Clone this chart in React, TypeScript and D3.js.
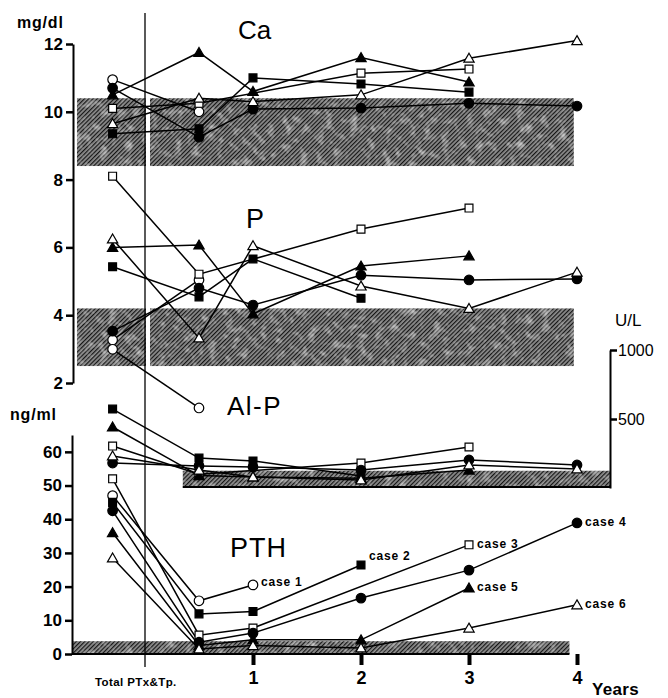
import React, { useEffect, useRef } from "react";
import * as d3 from "d3";

// time points (years after Total PTx & Tp.; pre-op drawn left of the line)
const times = [-0.3, 0.5, 1, 2, 3, 4];
const caseNames = ["case 1", "case 2", "case 3", "case 4", "case 5", "case 6"];
const caseSymbols = ["oc", "fs", "os", "fc", "ft", "ot"];

// serum Ca, mg/dl
const caValues = [
  [10.95, 10.0, null, null, null, null],
  [9.35, 9.5, 11.0, 10.82, 10.58, null],
  [10.1, 10.25, null, 11.14, 11.26, null],
  [10.7, 9.25, 10.08, 10.11, 10.25, 10.17],
  [10.5, 11.75, 10.6, 11.6, 10.88, null],
  [9.65, 10.4, 10.3, 10.5, 11.58, 12.1],
];
// serum P, mg/dl
const pValues = [
  [3.27, 5.04, null, null, null, null],
  [5.43, 4.54, 5.66, 4.5, null, null],
  [8.1, 5.21, null, 6.54, 7.16, null],
  [3.53, 4.8, 4.3, 5.18, 5.04, 5.07],
  [6.0, 6.07, 4.04, 5.45, 5.75, null],
  [6.25, 3.33, 6.05, 4.86, 4.2, 5.27],
];
// Al-P, U/L
const alpValues = [
  [1005, 580, null, null, null, null],
  [572, 217, 196, 87, null, null],
  [304, 100, null, 181, 297, null],
  [181, 160, 152, 130, 203, 167],
  [442, 90, 80, 70, 130, null],
  [232, 130, 80, 58, 167, 138],
];
// PTH, ng/ml
const pthValues = [
  [47, 15.8, 20.5, null, null, null],
  [45, 11.9, 12.6, 26.4, null, null],
  [52, 5.6, 7.7, null, 32.4, null],
  [42.5, 3.5, 6.2, 16.6, 24.9, 38.9],
  [36, 2.5, 4.2, 4.2, 19.6, null],
  [28.5, 1.5, 2.5, 1.8, 7.7, 14.6],
];

// normal ranges [lo, hi, from year, to year]
const caNormal = [8.4, 10.4, -0.63, 3.97];
const pNormal = [2.5, 4.2, -0.63, 3.97];
const alpNormal = [0, 125, 0.35, 4.31];
const pthNormal = [0, 3.8, -0.67, 3.93];

const mgTicks = [2, 4, 6, 8, 10, 12];
const ngTicks = [0, 10, 20, 30, 40, 50, 60];
const ulTicks = [500, 1000];
const yearTicks = [1, 2, 3, 4];

const App = () => {
  const svgRef = useRef(null);

  useEffect(() => {
    const svg = d3.select(svgRef.current);
    svg.selectAll("*").remove();

    const x = d3.scaleLinear().domain([0, 4]).range([145, 577]);
    const yMg = d3.scaleLinear().domain([2, 12]).range([383, 44]);
    const yAlp = d3.scaleLinear().domain([0, 1000]).range([488, 350]);
    const yPth = d3.scaleLinear().domain([0, 65]).range([654, 435]);

    const defs = svg.append("defs");
    const pat = defs
      .append("pattern")
      .attr("id", "hatch")
      .attr("width", 3)
      .attr("height", 3)
      .attr("patternUnits", "userSpaceOnUse")
      .attr("patternTransform", "rotate(45)");
    pat.append("rect").attr("width", 3).attr("height", 3).attr("fill", "#8e8e8e");
    pat
      .append("line")
      .attr("x1", 0.5)
      .attr("y1", 0)
      .attr("x2", 0.5)
      .attr("y2", 3)
      .attr("stroke", "#151515")
      .attr("stroke-width", 1.4);

    const noise = defs.append("filter").attr("id", "grain");
    noise
      .append("feTurbulence")
      .attr("type", "fractalNoise")
      .attr("baseFrequency", 0.12)
      .attr("numOctaves", 2)
      .attr("seed", 3);
    noise
      .append("feColorMatrix")
      .attr("values", "0 0 0 0 1  0 0 0 0 1  0 0 0 0 1  2.6 0 0 0 -1.3");
    noise.append("feComposite").attr("in2", "SourceGraphic").attr("operator", "in");

    const band = (scale, [lo, hi, t0, t1]) => {
      const g = svg.append("g");
      const attrs = (sel) =>
        sel
          .attr("x", x(t0))
          .attr("y", scale(hi))
          .attr("width", x(t1) - x(t0))
          .attr("height", scale(lo) - scale(hi));
      g.append("rect").call(attrs).attr("fill", "url(#hatch)");
      g.append("rect").call(attrs).attr("fill", "#fff").attr("filter", "url(#grain)").attr("opacity", 0.55);
    };
    band(yMg, caNormal);
    band(yMg, pNormal);
    band(yAlp, alpNormal);
    band(yPth, pthNormal);

    // gap next to the operation line
    svg
      .append("line")
      .attr("x1", x(0) + 3)
      .attr("x2", x(0) + 3)
      .attr("y1", yMg(10.5))
      .attr("y2", yMg(2.4))
      .attr("stroke", "#fff")
      .attr("stroke-width", 4);

    svg
      .append("line")
      .attr("x1", x(0))
      .attr("x2", x(0))
      .attr("y1", 13)
      .attr("y2", 667)
      .attr("stroke", "#000")
      .attr("stroke-width", 1.3);

    const symbolType = {
      oc: d3.symbolCircle,
      fc: d3.symbolCircle,
      os: d3.symbolSquare,
      fs: d3.symbolSquare,
      ot: d3.symbolTriangle,
      ft: d3.symbolTriangle,
    };
    const symbolSize = { oc: 72, fc: 72, os: 62, fs: 62, ot: 46, ft: 46 };

    const line = d3
      .line()
      .x((d) => x(d.t))
      .y((d) => d.y);

    const drawPanel = (values, scale) => {
      const g = svg.append("g");
      const series = values.map((vals, i) =>
        vals
          .map((v, j) => ({ t: times[j], v, s: caseSymbols[i] }))
          .filter((d) => d.v != null)
          .map((d) => ({ ...d, y: scale(d.v) })),
      );
      g.selectAll("path.ln")
        .data(series)
        .enter()
        .append("path")
        .attr("class", "ln")
        .attr("d", line)
        .attr("fill", "none")
        .attr("stroke", "#000")
        .attr("stroke-width", 1.5);
      series.forEach((pts) => {
        g.selectAll(null)
          .data(pts)
          .enter()
          .append("path")
          .attr("transform", (d) => `translate(${x(d.t)},${d.y + (d.s.endsWith("t") ? 1 : 0)})`)
          .attr("d", (d) => d3.symbol().type(symbolType[d.s]).size(symbolSize[d.s])())
          .attr("fill", (d) => (d.s.startsWith("f") ? "#000" : "#fff"))
          .attr("stroke", "#000")
          .attr("stroke-width", 1.2);
      });
      return series;
    };

    drawPanel(caValues, yMg);
    drawPanel(pValues, yMg);
    drawPanel(alpValues, yAlp);
    const pth = drawPanel(pthValues, yPth);

    // case labels at the last PTH value
    const lblShift = [-2, -8, 0, 0, 0, 0];
    svg
      .append("g")
      .selectAll("text")
      .data(pth)
      .enter()
      .append("text")
      .attr("x", (pts) => x(pts[pts.length - 1].t) + 8)
      .attr("y", (pts, i) => pts[pts.length - 1].y + lblShift[i])
      .attr("dominant-baseline", "middle")
      .attr("font-family", "Liberation Sans, Arial, sans-serif")
      .attr("font-weight", "bold")
      .attr("font-size", 12)
      .attr("letter-spacing", 0.8)
      .text((_, i) => caseNames[i]);

    const styleAxis = (g, size) =>
      g
        .call((s) => s.select(".domain").attr("stroke-width", 2))
        .call((s) => s.selectAll(".tick line").attr("stroke-width", 2.5))
        .call((s) =>
          s
            .selectAll("text")
            .attr("font-family", "Liberation Sans, Arial, sans-serif")
            .attr("font-weight", "bold")
            .attr("font-size", size)
            .attr("fill", "#000"),
        );

    svg
      .append("g")
      .attr("transform", "translate(73,0)")
      .call(d3.axisLeft(yMg).tickValues(mgTicks).tickSize(7).tickSizeOuter(0).tickPadding(3))
      .call((g) => styleAxis(g, 17));

    svg
      .append("g")
      .attr("transform", "translate(72,0)")
      .call(d3.axisLeft(yPth).tickValues(ngTicks).tickSize(7).tickSizeOuter(0).tickPadding(3))
      .call((g) => styleAxis(g, 17));

    svg
      .append("g")
      .attr("transform", "translate(610,0)")
      .call(
        d3
          .axisRight(yAlp)
          .tickValues(ulTicks)
          .tickSize(7)
          .tickSizeOuter(0)
          .tickPadding(1)
          .tickFormat(d3.format("d")),
      )
      .call((g) => styleAxis(g, 16))
      .call((g) => g.selectAll("text").attr("font-weight", "normal"));

    // Al-P box bottom
    svg
      .append("line")
      .attr("x1", x(alpNormal[2]))
      .attr("x2", x(alpNormal[3]))
      .attr("y1", yAlp(0) - 1)
      .attr("y2", yAlp(0) - 1)
      .attr("stroke", "#000")
      .attr("stroke-width", 2);

    // x axis
    svg
      .append("line")
      .attr("x1", 72)
      .attr("x2", x(3.93))
      .attr("y1", yPth(0))
      .attr("y2", yPth(0))
      .attr("stroke", "#000")
      .attr("stroke-width", 2);
    svg
      .append("g")
      .attr("transform", `translate(0,${yPth(0)})`)
      .call(d3.axisBottom(x).tickValues(yearTicks).tickSize(11).tickPadding(6).tickFormat(d3.format("d")))
      .call((g) => g.select(".domain").remove())
      .call((g) => styleAxis(g, 18))
      .call((g) => g.selectAll(".tick line").attr("stroke-width", 4));

    const label = (txt, lx, ly, size, weight = "normal", spacing = 0) =>
      svg
        .append("text")
        .attr("x", lx)
        .attr("y", ly)
        .attr("font-family", "Liberation Sans, Arial, sans-serif")
        .attr("font-size", size)
        .attr("font-weight", weight)
        .attr("letter-spacing", spacing)
        .text(txt);

    label("Ca", 238, 39, 26);
    label("P", 246, 228, 27);
    label("Al-P", 227, 415, 26, "normal", 1.5);
    label("PTH", 230, 557, 27, "normal", 1);
    label("mg/dl", 17, 28, 16, "bold", 0.8);
    label("ng/ml", 10, 420, 16, "bold", 0.8);
    label("U/L", 615, 326, 17);
    label("Total PTx&Tp.", 95, 686, 11.5, "bold", 0.4);
    label("Years", 592, 695, 17, "bold", 0.3);
  }, []);

  return (
    <svg
      ref={svgRef}
      width={668}
      height={698}
      style={{ position: "absolute", left: 0, top: 0, background: "#fff" }}
    />
  );
};

export default App;
